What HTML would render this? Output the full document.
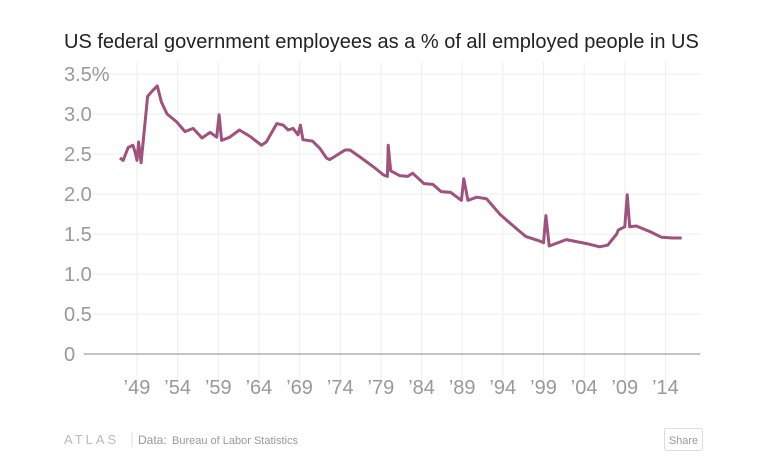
<!DOCTYPE html>
<html><head><meta charset="utf-8"><style>
html,body{margin:0;padding:0;background:#fff;width:779px;height:466px;overflow:hidden;font-family:"Liberation Sans",sans-serif}
</style></head><body>
<svg width="779" height="466">
<text x="64" y="48" font-size="20" fill="#222">US federal government employees as a % of all employed people in US</text>
<g id="grid"></g><g id="axes"></g><g id="series"></g>
<g>
<text x="64" y="444" font-size="13" fill="#bbb" letter-spacing="3">ATLAS</text>
<line x1="132" y1="432" x2="132" y2="447" stroke="#ddd"/>
<text x="138" y="444" font-size="12" fill="#999">Data:</text>
<text x="172" y="444" font-size="11" fill="#999">Bureau of Labor Statistics</text>
<rect x="664.5" y="428.5" width="38" height="22" rx="2" fill="#fff" stroke="#ddd"/>
<text x="683.5" y="444" font-size="11" fill="#999" text-anchor="middle">Share</text>
</g>
</svg>
<script>
const years=[1946.9,1947.3,1947.9,1948.5,1948.8,1949.0,1949.2,1949.5,1950.3,1950.9,1951.5,1952.0,1952.7,1953.9,1954.9,1955.9,1957.0,1958.0,1958.8,1959.1,1959.4,1960.4,1961.6,1962.9,1964.3,1964.9,1966.2,1967.0,1967.6,1968.2,1968.8,1969.1,1969.4,1970.6,1971.5,1972.3,1972.7,1974.6,1975.2,1976.6,1978.2,1979.3,1979.8,1979.9,1980.2,1981.3,1982.3,1982.9,1984.3,1985.4,1986.4,1987.6,1988.9,1989.2,1989.7,1990.8,1992.0,1993.7,1995.3,1996.8,1998.6,1999.0,1999.3,1999.7,2001.8,2004.3,2005.9,2006.9,2008.0,2008.2,2009.0,2009.3,2009.6,2010.4,2012.1,2013.5,2014.9,2016.0];
const values=[2.45,2.42,2.58,2.61,2.51,2.42,2.65,2.39,3.22,3.29,3.35,3.15,3.0,2.90,2.78,2.82,2.70,2.77,2.71,2.99,2.67,2.71,2.80,2.72,2.61,2.65,2.88,2.86,2.80,2.82,2.74,2.86,2.68,2.66,2.57,2.45,2.43,2.55,2.55,2.45,2.33,2.24,2.22,2.61,2.29,2.23,2.22,2.26,2.13,2.12,2.03,2.02,1.92,2.19,1.92,1.96,1.94,1.74,1.60,1.47,1.41,1.39,1.73,1.35,1.43,1.38,1.34,1.36,1.50,1.55,1.59,1.99,1.59,1.60,1.53,1.46,1.45,1.45];
const yTicks=[0,0.5,1.0,1.5,2.0,2.5,3.0,3.5];
const yLabels=["0","0.5","1.0","1.5","2.0","2.5","3.0","3.5%"];
const xTicks=[1949,1954,1959,1964,1969,1974,1979,1984,1989,1994,1999,2004,2009,2014];
const xLabels=["’49","’54","’59","’64","’69","’74","’79","’84","’89","’94","’99","’04","’09","’14"];
const X=y=>137+(y-1949)*8.13, Y=v=>354-v*80;
const NS="http://www.w3.org/2000/svg";
function mk(t,a,p){const e=document.createElementNS(NS,t);for(const k in a)e.setAttribute(k,a[k]);p.appendChild(e);return e;}
const grid=document.getElementById('grid'),axes=document.getElementById('axes'),ser=document.getElementById('series');
xTicks.forEach((t,i)=>{
 const l=mk('line',{x1:X(t),x2:X(t),y1:62,y2:388,stroke:'#eee'},grid);
 
 
 const tx=mk('text',{x:X(t),y:394,'font-size':20,fill:'#999','text-anchor':'middle'},axes);
 tx.textContent=xLabels[i];
 
 
});
yTicks.forEach((t,i)=>{
 const l=mk('line',{x1:84,x2:700,y1:Y(t),y2:Y(t),stroke:t===0?'#888':'#eee'},grid);
 
 
 const tx=mk('text',{x:64,y:Y(t)+7,'font-size':20,fill:'#999'},axes);
 tx.textContent=yLabels[i];
 
 
});
const d=years.map((y,i)=>(i?'L':'M')+X(y).toFixed(1)+' '+Y(values[i]).toFixed(1)).join(' ');
const p=mk('path',{d:d,fill:'none',stroke:'#a0527f','stroke-width':3,'stroke-linejoin':'round'},ser);


</script>
</body></html>
